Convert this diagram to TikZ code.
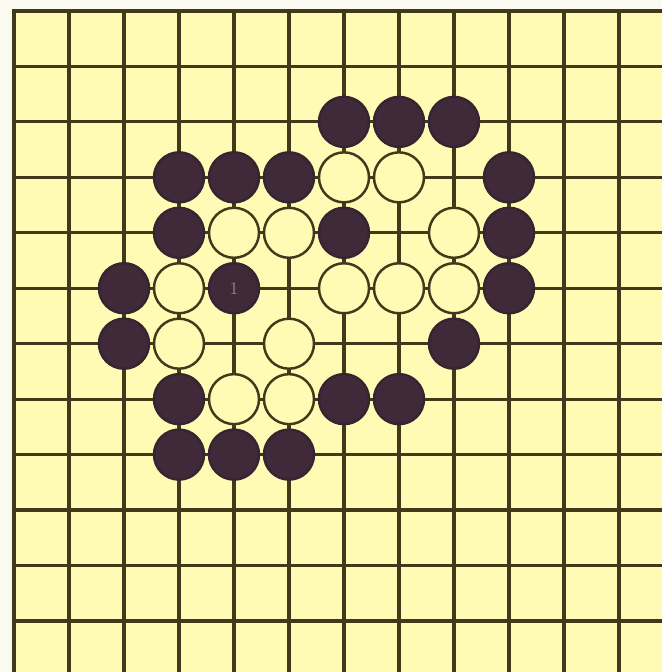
\documentclass[tikz,border=0pt]{standalone}
\usepackage{tikz}
\definecolor{paper}{HTML}{FBFAF0}
\definecolor{board}{HTML}{FFFBB4}
\definecolor{boardline}{HTML}{403A1A}
\definecolor{stoneblack}{HTML}{402A3A}
\definecolor{stonemark}{HTML}{9A8290}
\tikzset{
  gridline/.style={draw=boardline, line width=1.8pt, line cap=rect},
  stone/.style={circle, minimum size=1.0cm, inner sep=0pt, line width=1.4pt},
  bstone/.style={stone, fill=stoneblack, draw=stoneblack!85!black},
  wstone/.style={stone, fill=board, draw=boardline},
}

\begin{document}
\begin{tikzpicture}[x=1.1cm, y=-1.109cm]
    \useasboundingbox[fill=paper] (-0.2545,-0.1984) rectangle (11.782,11.921);
    \fill[board] (0,0) rectangle (11.782,11.921);
    % board lines
    \foreach \i in {0,...,11}
      \draw[gridline] (\i,0) -- (\i,11.95);
    \foreach \j in {0,...,11}
      \draw[gridline] (0,\j) -- (11.81,\j);
    % black stones
    \node[bstone] (b62) at (6,2) {};
    \node[bstone] (b72) at (7,2) {};
    \node[bstone] (b82) at (8,2) {};
    \node[bstone] (b33) at (3,3) {};
    \node[bstone] (b43) at (4,3) {};
    \node[bstone] (b53) at (5,3) {};
    \node[bstone] (b93) at (9,3) {};
    \node[bstone] (b34) at (3,4) {};
    \node[bstone] (b64) at (6,4) {};
    \node[bstone] (b94) at (9,4) {};
    \node[bstone] (b25) at (2,5) {};
    \node[bstone, text=stonemark, font=\normalsize] (b45) at (4,5) {1};
    \node[bstone] (b95) at (9,5) {};
    \node[bstone] (b26) at (2,6) {};
    \node[bstone] (b86) at (8,6) {};
    \node[bstone] (b37) at (3,7) {};
    \node[bstone] (b67) at (6,7) {};
    \node[bstone] (b77) at (7,7) {};
    \node[bstone] (b38) at (3,8) {};
    \node[bstone] (b48) at (4,8) {};
    \node[bstone] (b58) at (5,8) {};
    % white stones
    \node[wstone] (w63) at (6,3) {};
    \node[wstone] (w73) at (7,3) {};
    \node[wstone] (w44) at (4,4) {};
    \node[wstone] (w54) at (5,4) {};
    \node[wstone] (w84) at (8,4) {};
    \node[wstone] (w35) at (3,5) {};
    \node[wstone] (w65) at (6,5) {};
    \node[wstone] (w75) at (7,5) {};
    \node[wstone] (w85) at (8,5) {};
    \node[wstone] (w36) at (3,6) {};
    \node[wstone] (w56) at (5,6) {};
    \node[wstone] (w47) at (4,7) {};
    \node[wstone] (w57) at (5,7) {};
\end{tikzpicture}
\end{document}
